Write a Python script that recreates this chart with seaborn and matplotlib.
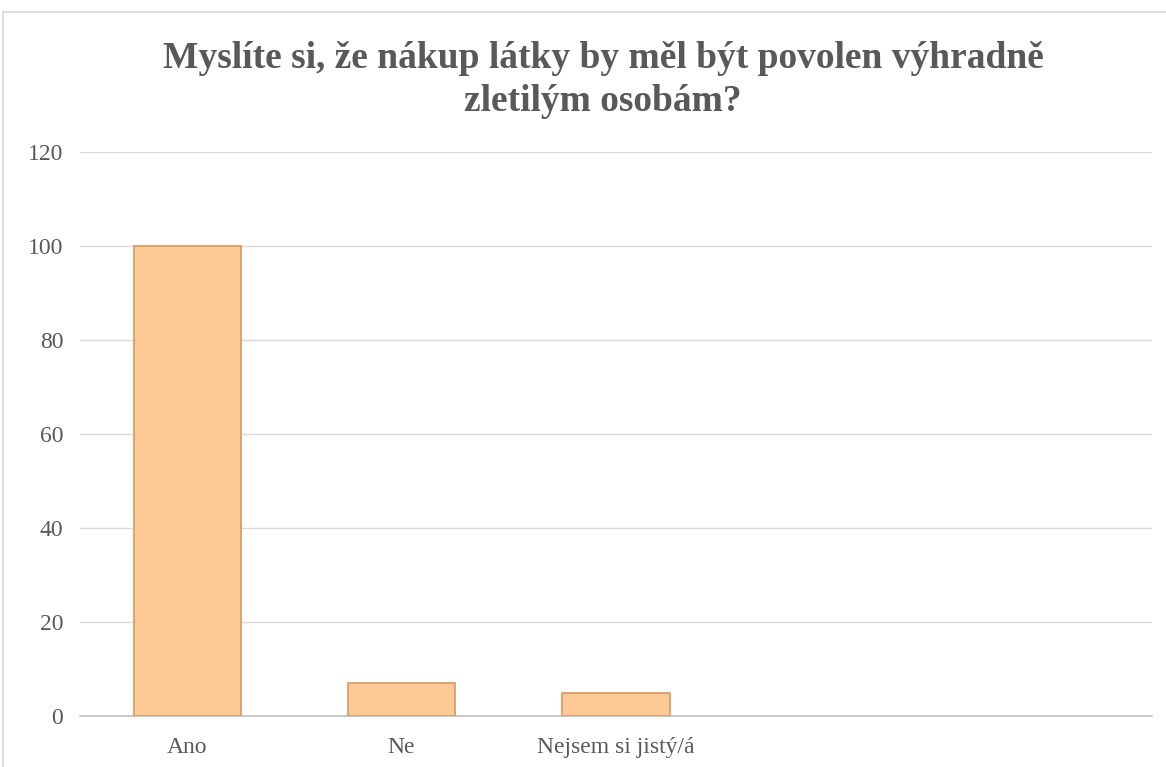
import pandas as pd
import seaborn as sns
import matplotlib.pyplot as plt
from matplotlib.patches import Rectangle

# data
odpovedi = ["Ano", "Ne", "Nejsem si jistý/á"]
pocty = [100, 7, 5]
y_ticks = [0, 20, 40, 60, 80, 100, 120]

df = pd.DataFrame({"odpoved": odpovedi, "pocet": pocty})

sns.set_style("white")
plt.rcParams['font.family'] = ['Liberation Serif', 'DejaVu Serif']

fig = plt.figure(figsize=(11.66, 7.67), dpi=100)
ax = fig.add_axes([80 / 1166, 1 - 716 / 767, 1072 / 1166, (716 - 152) / 767])

sns.barplot(data=df, x="odpoved", y="pocet", color="#FFCA96", saturation=1,
            width=0.5, edgecolor="#D39A62", linewidth=1.2, ax=ax, zorder=3)

ax.set_xlim(-0.5, 4.5)
ax.set_ylim(0, 120)
ax.set_yticks(y_ticks)
ax.yaxis.grid(True, color="#D9D9D9", linewidth=1, zorder=0)
ax.set_axisbelow(True)
for s in ["top", "right", "left"]:
    ax.spines[s].set_visible(False)
ax.spines["bottom"].set_color("#BFBFBF")
ax.spines["bottom"].set_linewidth(1.2)
ax.tick_params(axis="both", length=0, labelsize=17, labelcolor="#595959")
ax.tick_params(axis="x", pad=15)
ax.tick_params(axis="y", pad=12)
ax.set_xlabel("")
ax.set_ylabel("")

fig.text(603 / 1166, 1 - 80 / 767,
         "Myslíte si, že nákup látky by měl být povolen výhradně\nzletilým osobám?",
         ha="center", va="center", fontsize=27, fontweight="bold",
         color="#595959", linespacing=1.3)

# outer chart frame
fig.patches.append(Rectangle((3 / 1166, -0.1), 1.2, 1 - 12 / 767 + 0.1,
                             transform=fig.transFigure, fill=False,
                             edgecolor="#D9D9D9", linewidth=1.2))

fig.savefig("out.png", dpi=100)
